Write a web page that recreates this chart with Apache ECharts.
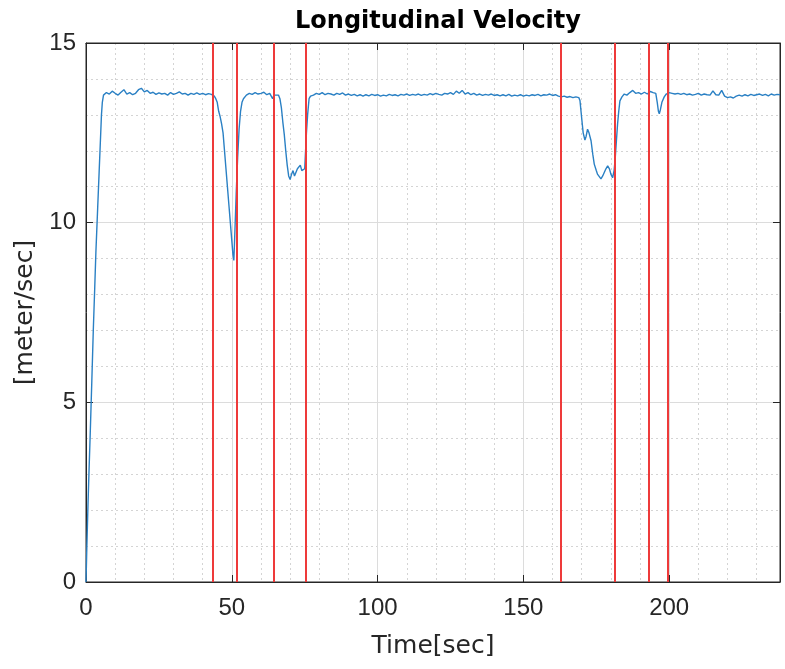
<!DOCTYPE html>
<html>
<head>
<meta charset="utf-8">
<script src="https://cdn.jsdelivr.net/npm/echarts@6/dist/echarts.min.js"></script>
<style>
html,body{margin:0;padding:0;background:#fff;}
#chart{width:785px;height:669px;}
</style>
</head>
<body>
<div id="chart"></div>
<script>
// ---- data ----
const titleText = 'Longitudinal Velocity';
const xName = 'Time[sec]';
const yName = '[meter/sec]';
const xTicks = [0, 50, 100, 150, 200];
const yTicks = [0, 5, 10, 15];
const eventTimes = [43.6, 51.8, 64.4, 75.3, 162.7, 181.5, 193.0, 199.5];

const time = [
  0, 0.3, 0.7, 1.0, 1.4, 2.0, 2.5, 3.0, 3.4, 4.0, 4.5, 5.0, 5.3, 5.6, 6.0, 6.5,
  7, 8, 9, 10, 11, 12, 13, 14, 15, 16, 17, 18, 19, 20, 21, 22, 23, 24, 25, 26, 27, 28, 29, 30,
  31, 32, 33, 34, 35, 36, 37, 38, 39, 40, 41, 42, 43, 44,
  44.5, 45, 45.5, 46, 46.5, 47, 47.5, 48, 48.5, 49, 49.5, 50, 50.4, 50.7, 51, 51.5, 52, 52.5, 53, 53.5, 54,
  55, 56, 57, 58, 59, 60, 61, 62, 63, 64, 64.5, 65, 66, 66.5, 67, 67.5, 68, 68.5, 69, 69.5, 70,
  70.5, 71, 71.5, 72, 72.5, 73, 73.5, 74, 74.5, 75, 75.3, 75.6, 76, 76.5, 77,
  78, 79, 80, 81, 82, 83, 84, 85, 86, 87, 88, 89, 90, 91, 92, 93, 94, 95, 96, 97, 98, 99, 100,
  101, 102, 103, 104, 105, 106, 107, 108, 109, 110, 111, 112, 113, 114, 115, 116, 117, 118, 119, 120,
  121, 122, 123, 124, 125, 126, 127, 128, 129, 130, 131, 132, 133, 134, 135, 136, 137, 138, 139, 140,
  141, 142, 143, 144, 145, 146, 147, 148, 149, 150, 151, 152, 153, 154, 155, 156, 157, 158, 159, 160,
  161, 162, 163, 164, 165, 166, 167, 168, 169, 169.4, 170, 170.5, 171.1, 171.5, 172, 172.5, 173.2, 173.8,
  174.3, 175, 175.4, 176, 176.6, 177.2, 177.7, 178.3, 178.9, 179.5, 180, 180.6, 181.1, 181.5, 182, 182.3,
  182.7, 183.1, 183.8, 184.6, 185.5, 186.5, 187.5, 188.5, 189.5, 190.5, 191.5, 192.5, 193.5, 194.5, 195.4,
  195.9, 196.3, 196.6, 197, 197.5, 198.3, 199, 200,
  201, 202, 203, 204, 205, 206, 207, 208, 209, 210, 211, 212, 213, 214, 215, 216, 217, 218, 219, 220,
  221, 222, 223, 224, 225, 226, 227, 228, 229, 230, 231, 232, 233, 234, 235, 236, 237, 238
];
const speed = [
  0, 1.0, 2.2, 3.0, 4.0, 5.6, 7.0, 8.2, 9.2, 10.4, 11.4, 12.4, 13.0, 13.35, 13.55, 13.5,
  13.62, 13.58, 13.66, 13.6, 13.55, 13.63, 13.7, 13.58, 13.62, 13.56, 13.6, 13.7, 13.74, 13.64, 13.68, 13.6, 13.63, 13.57, 13.61, 13.58, 13.6, 13.55, 13.62, 13.57,
  13.6, 13.64, 13.58, 13.6, 13.55, 13.6, 13.57, 13.61, 13.57, 13.6, 13.56, 13.59, 13.57, 13.52,
  13.45, 13.35, 13.1, 12.95, 12.75, 12.5, 12.0, 11.5, 11.0, 10.5, 10.0, 9.5, 9.1, 8.95, 9.6, 10.8, 11.8, 12.6, 13.1, 13.35, 13.45,
  13.55, 13.6, 13.57, 13.62, 13.58, 13.6, 13.63, 13.56, 13.6, 13.45, 13.55, 13.57, 13.55, 13.45, 13.2, 12.8, 12.45, 12.0, 11.6, 11.3, 11.2,
  11.35, 11.45, 11.3, 11.35, 11.5, 11.55, 11.6, 11.45, 11.5, 11.5, 11.55, 12.5, 13.0, 13.45, 13.52,
  13.55, 13.6, 13.57, 13.62, 13.56, 13.6, 13.58, 13.55, 13.6, 13.57, 13.61, 13.55, 13.58, 13.54, 13.57, 13.53, 13.56, 13.52, 13.56, 13.53, 13.57, 13.54, 13.56,
  13.52, 13.55, 13.53, 13.57, 13.54, 13.56, 13.53, 13.57, 13.55, 13.58, 13.54, 13.57, 13.55, 13.58, 13.54, 13.57, 13.55, 13.59, 13.56, 13.6,
  13.57, 13.55, 13.6, 13.58, 13.62, 13.57, 13.66, 13.6, 13.68, 13.58, 13.62, 13.56, 13.6, 13.55, 13.58, 13.54, 13.57, 13.55, 13.58, 13.54,
  13.56, 13.53, 13.56, 13.53, 13.57, 13.52, 13.55, 13.53, 13.56, 13.52, 13.55, 13.53, 13.56, 13.54, 13.57, 13.53, 13.56, 13.55, 13.58, 13.54,
  13.56, 13.52, 13.5, 13.52, 13.49, 13.51, 13.48, 13.5, 13.48, 13.4, 12.9, 12.5, 12.3, 12.4, 12.6, 12.5, 12.28, 11.9,
  11.63, 11.45, 11.35, 11.3, 11.22, 11.3, 11.35, 11.5, 11.58, 11.5, 11.35, 11.25, 11.45, 11.8, 12.4, 12.75,
  13.1, 13.39, 13.5, 13.58, 13.55, 13.62, 13.68, 13.6, 13.62, 13.58, 13.63, 13.58, 13.65, 13.62, 13.6,
  13.35, 13.1, 13.03, 13.15, 13.35, 13.5, 13.58, 13.62,
  13.6, 13.58, 13.6, 13.57, 13.6, 13.56, 13.58, 13.55, 13.57, 13.6, 13.55, 13.58, 13.56, 13.55, 13.67, 13.56, 13.55, 13.68, 13.52, 13.48,
  13.5, 13.47, 13.52, 13.55, 13.52, 13.56, 13.53, 13.57, 13.54, 13.56, 13.58, 13.54, 13.57, 13.53, 13.58, 13.55, 13.57, 13.56
];

// ---- chart ----
const xMin = 0, xMax = 238, xStep = xTicks[1] - xTicks[0];
const yMin = 0, yMax = 15, yStep = yTicks[1] - yTicks[0];
const axisColor = '#262626';
const tickFont = {fontFamily: 'Liberation Sans, Arial, sans-serif', fontSize: 24, color: axisColor};

const chart = echarts.init(document.getElementById('chart'), null, {renderer: 'canvas'});
const base = {
  axisLine: {show: true, onZero: false, lineStyle: {color: axisColor, width: 1}},
  axisTick: {show: true, inside: true, length: 7, lineStyle: {color: axisColor, width: 1}}
};
chart.setOption({
  animation: false,
  backgroundColor: '#ffffff',
  title: {
    text: titleText, left: 433, textAlign: 'center', top: 5,
    textStyle: {fontFamily: 'DejaVu Sans, sans-serif', fontWeight: 'bold', fontSize: 24, color: '#000'}
  },
  grid: {left: 86, right: 5, top: 43, bottom: 87, containLabel: false,
    show: true, borderColor: axisColor, borderWidth: 1, backgroundColor: '#fff'},
  xAxis: [{
    type: 'value', min: xMin, max: xMax, interval: xStep, position: 'bottom',
    name: xName, nameLocation: 'middle', nameGap: 52,
    nameTextStyle: {fontFamily: 'DejaVu Sans, sans-serif', fontSize: 25, color: axisColor},
    axisLine: base.axisLine, axisTick: base.axisTick,
    axisLabel: Object.assign({margin: 14, showMaxLabel: false,
      formatter: v => (xTicks.indexOf(v) >= 0 ? String(v) : '')}, tickFont),
    splitLine: {show: true, lineStyle: {color: '#dcdcdc', width: 1}},
    minorTick: {show: true, splitNumber: 5, length: 0},
    minorSplitLine: {show: true, lineStyle: {color: '#d4d4d4', width: 1, type: [2, 3]}}
  }, {
    type: 'value', min: xMin, max: xMax, interval: xStep, position: 'top',
    axisLine: base.axisLine, axisTick: base.axisTick,
    axisLabel: {show: false}, splitLine: {show: false}
  }],
  yAxis: [{
    type: 'value', min: yMin, max: yMax, interval: yStep, position: 'left',
    name: yName, nameLocation: 'middle', nameGap: 48,
    nameTextStyle: {fontFamily: 'DejaVu Sans, sans-serif', fontSize: 25, color: axisColor},
    axisLine: base.axisLine, axisTick: base.axisTick,
    axisLabel: Object.assign({margin: 10}, tickFont),
    splitLine: {show: true, lineStyle: {color: '#dcdcdc', width: 1}},
    minorTick: {show: true, splitNumber: 5, length: 0},
    minorSplitLine: {show: true, lineStyle: {color: '#d4d4d4', width: 1, type: [2, 3]}}
  }, {
    type: 'value', min: yMin, max: yMax, interval: yStep, position: 'right',
    axisLine: base.axisLine, axisTick: base.axisTick,
    axisLabel: {show: false}, splitLine: {show: false}
  }],
  series: [{
    type: 'line',
    data: time.map((t, i) => [t, speed[i]]),
    showSymbol: false, symbol: 'none',
    lineStyle: {color: '#2a80c4', width: 1.4},
    z: 2
  }, {
    type: 'line', data: [], symbol: 'none', z: 3,
    markLine: {
      silent: true, symbol: ['none', 'none'], label: {show: false},
      lineStyle: {color: '#ee3a3a', width: 2, type: 'solid'},
      data: eventTimes.map(t => ({xAxis: t}))
    }
  }]
});
</script>
</body>
</html>
